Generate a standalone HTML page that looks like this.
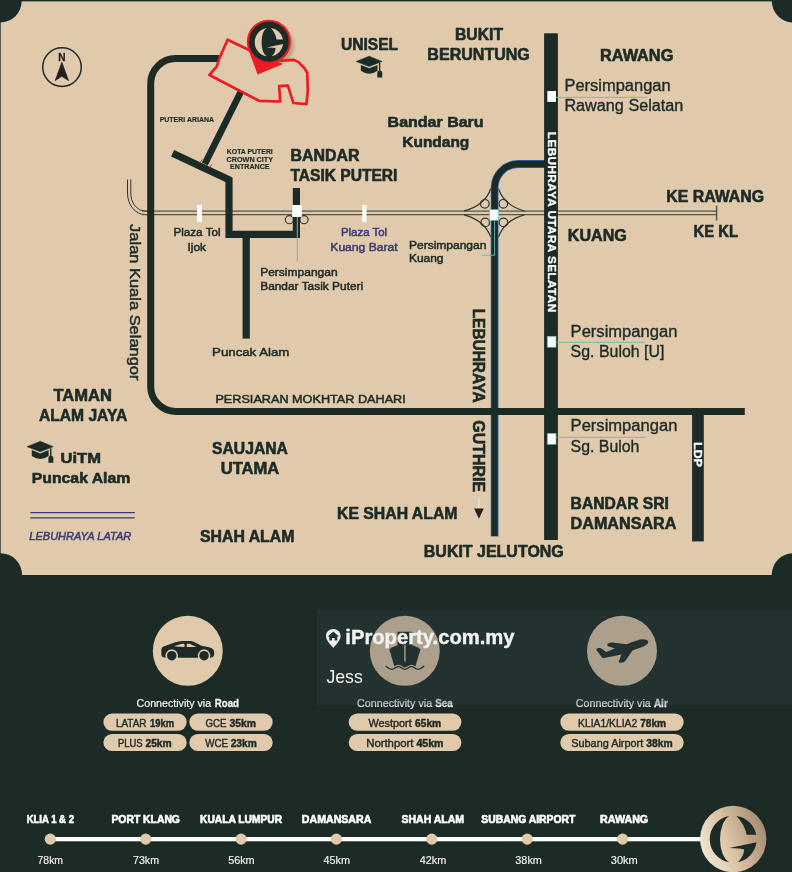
<!DOCTYPE html>
<html lang="ms">
<head>
<meta charset="utf-8">
<title>Location Map</title>
<style>
html,body{margin:0;padding:0;background:#1d2b27;}
body{width:792px;height:872px;overflow:hidden;}
svg{display:block;will-change:transform;font-family:"Liberation Sans",sans-serif;}
</style>
</head>
<body>
<svg width="792" height="872" viewBox="0 0 792 872">
<rect x="0" y="0" width="792" height="872" fill="#1d2b27"/>
<rect x="0.7" y="1.4" width="792" height="573.6" fill="#e1caab"/>
<circle cx="0.3" cy="1.0" r="21.4" fill="#1d2b27"/>
<circle cx="793.4" cy="1.0" r="21.6" fill="#1d2b27"/>
<circle cx="0.3" cy="575" r="21.8" fill="#1d2b27"/>
<circle cx="793.5" cy="575" r="21.8" fill="#1d2b27"/>
<g fill="none" stroke="#54564a" stroke-width="1.45">
<path d="M127.5 179.5 V193 A17.5 21.6 0 0 0 145 214.6 H148" stroke="#2f3630" stroke-width="1"/><path d="M142 214.6 H716.6"/>
<path d="M130.8 179.5 V193 A14.2 18.1 0 0 0 145 211.1 H148" stroke="#2f3630" stroke-width="1"/><path d="M142 211.1 H716.6"/>
<path d="M716.6 205.5 V220.5"/>
<circle cx="289.4" cy="219.7" r="4.1" stroke="#2f3630" stroke-width="1.15"/><circle cx="304" cy="219.7" r="4.1" stroke="#2f3630" stroke-width="1.15"/>
<g stroke="#2f3630" stroke-width="1.2">
<circle cx="484.8" cy="203.8" r="4.3"/><circle cx="503.3" cy="203.8" r="4.3"/>
<circle cx="485.2" cy="222.4" r="4.3"/><circle cx="503.5" cy="222.4" r="4.3"/>
<path d="M464 211 Q485 205.5 490.8 188.5"/>
<path d="M524.5 211 Q504.2 205.5 498.4 188.5"/>
<path d="M464 214.8 Q485 220.3 490.8 237.3"/>
<path d="M524.5 214.8 Q504.2 220.3 498.4 237.3"/>
</g>
</g>
<path d="M545 164 H518.2 A23.6 23.6 0 0 0 494.6 187.6 V536.6" fill="none" stroke="#2b6fca" stroke-width="7.8"/>
<path d="M545 164 H518.2 A23.6 23.6 0 0 0 494.6 187.6 V536.1" fill="none" stroke="#1d2b27" stroke-width="6.3"/>
<g fill="none" stroke="#1d2b27" stroke-width="7" stroke-linejoin="miter">
<path d="M219.5 58.55 H175.7 A25 25 0 0 0 150.7 83.55 V386.4 A25 25 0 0 0 175.7 411.4 H744.8" stroke-width="7"/>
<path d="M241 91.5 L204.8 164" stroke-width="6.6"/>
<path d="M172.6 153.2 L229 179.8 V234.3 H296.4 V188" stroke-linejoin="miter" stroke-width="7.2"/>
<path d="M246.2 234 V338.6" stroke-width="7.3"/>
</g>
<rect x="544.1" y="33.3" width="13.8" height="506.7" fill="#1d2b27"/>
<rect x="692.1" y="411" width="11.7" height="130.4" fill="#1d2b27"/>
<rect x="197" y="205" width="5" height="17" fill="#fff"/>
<rect x="362.3" y="205" width="4.2" height="17" fill="#fff"/>
<rect x="292.2" y="205" width="9.6" height="12" fill="#fff"/>
<path d="M297.3 217 V261.5" stroke="#5fbfa8" stroke-width="1" fill="none"/>
<rect x="489.3" y="209.7" width="9.4" height="10.6" fill="#fff" stroke="#5fbfa8" stroke-width="0.8"/>
<path d="M494.6 220.5 V255.3 H482" stroke="#5fbfa8" stroke-width="0.9" fill="none"/>
<path d="M556 97.4 H647" stroke="#5fbfa8" stroke-width="0.9" fill="none"/>
<rect x="547.3" y="91.0" width="8.7" height="10.9" fill="#fff" stroke="#5fbfa8" stroke-width="0"/>
<path d="M556 342.3 H645" stroke="#5fbfa8" stroke-width="0.9" fill="none"/>
<rect x="547.3" y="336.3" width="8.7" height="10.9" fill="#fff" stroke="#5fbfa8" stroke-width="0.7"/>
<path d="M556 437.3 H645" stroke="#5fbfa8" stroke-width="0.9" fill="none"/>
<rect x="547.3" y="433.4" width="8.7" height="10.9" fill="#fff" stroke="#5fbfa8" stroke-width="0.7"/>
<path d="M227.6 39.7 L248 49.5 L260 58 L281.8 60.6 L293.9 59.9 L298.5 62.1 L304.5 68.2 L307.2 72.7 L307.8 90.9 L306.4 104.1 L293.4 103 L287.9 85.6 L279.1 86.1 L280.3 101.5 L259.1 100.8 L209.4 75 L216.7 66.7 L219.7 57.6 Z" fill="none" stroke="#ec1c24" stroke-width="2.7" stroke-linejoin="round"/>
<defs><filter id="sh" x="-30%" y="-30%" width="170%" height="170%"><feGaussianBlur stdDeviation="1.6"/></filter></defs>
<ellipse cx="273" cy="45" rx="21" ry="21" fill="#6b5a3c" opacity="0.35" filter="url(#sh)"/>
<path d="M248.2 49 L257.6 74.6 L283 64 Z" fill="#ec1c24"/>
<circle cx="268.9" cy="41.7" r="21" fill="#1d2b27" stroke="#ec1c24" stroke-width="2.1"/>
<g fill="#e1caab"><path d="M266.57 28.11 A14.30 14.30 0 0 0 266.57 56.29 A7.38 14.92 0 0 1 266.57 28.11 Z"/><path d="M271.00 28.04 A14.30 14.30 0 0 1 283.06 39.54 L276.59 39.54 Q275.45 33.33 271.00 28.04 Z"/><path d="M283.17 44.10 L266.57 47.52 Q274.15 47.49 275.72 48.49 Q275.29 53.07 271.86 56.21 A14.30 14.30 0 0 0 283.17 44.10 Z"/></g>
<path d="M200.3 162.3 L202.3 159.3 M210 167.3 L212 164.2" stroke="#ec1c24" stroke-width="0.9"/>
<circle cx="62" cy="67.1" r="19.3" fill="none" stroke="#1d2b27" stroke-width="1.5"/>
<path d="M61.85 62.3 L68.5 80.6 L61.85 76.3 L55.2 80.6 Z" fill="#231f20" stroke="#231f20" stroke-width="0.7" stroke-linejoin="round"/>
<text x="61.9" y="60.8" font-size="10.6" font-weight="700" text-anchor="middle" fill="#231f20" textLength="7.3" lengthAdjust="spacingAndGlyphs" stroke="#231f20" stroke-width="0.3">N</text>
<g transform="translate(356.1 56.2) scale(1.0)" fill="#1d2b27"><path d="M0 5.3 L13.1 0 L26 5.3 L13.1 10.4 Z" stroke="#1e2a26" stroke-width="0.5" stroke-linejoin="round"/><path d="M4.75 8.7 L13.1 12.1 L21.4 8.7 V14.6 Q13.1 20.6 4.75 14.6 Z"/><path d="M22.8 6.8 H24.2 V14.5 H22.8 Z"/><path d="M21.2 21.2 V17 Q21.2 14.2 23.6 14.2 Q26.1 14.2 26.1 17 V21.2 Z"/></g>
<g transform="translate(27.0 441.3) scale(1.01)" fill="#1d2b27"><path d="M0 5.3 L13.1 0 L26 5.3 L13.1 10.4 Z" stroke="#1e2a26" stroke-width="0.5" stroke-linejoin="round"/><path d="M4.75 8.7 L13.1 12.1 L21.4 8.7 V14.6 Q13.1 20.6 4.75 14.6 Z"/><path d="M22.8 6.8 H24.2 V14.5 H22.8 Z"/><path d="M21.2 21.2 V17 Q21.2 14.2 23.6 14.2 Q26.1 14.2 26.1 17 V21.2 Z"/></g>
<text x="290.4" y="160.6" font-size="15.6" font-weight="700" text-anchor="start" fill="#1d2b27" textLength="69" lengthAdjust="spacingAndGlyphs" stroke="#1d2b27" stroke-width="0.6" stroke-linejoin="round">BANDAR</text>
<text x="290.4" y="180.8" font-size="15.6" font-weight="700" text-anchor="start" fill="#1d2b27" textLength="107" lengthAdjust="spacingAndGlyphs" stroke="#1d2b27" stroke-width="0.6" stroke-linejoin="round">TASIK PUTERI</text>
<text x="341" y="49.7" font-size="15.6" font-weight="700" text-anchor="start" fill="#1d2b27" textLength="57" lengthAdjust="spacingAndGlyphs" stroke="#1d2b27" stroke-width="0.6" stroke-linejoin="round">UNISEL</text>
<text x="479" y="40.4" font-size="15.6" font-weight="700" text-anchor="middle" fill="#1d2b27" textLength="48" lengthAdjust="spacingAndGlyphs" stroke="#1d2b27" stroke-width="0.6" stroke-linejoin="round">BUKIT</text>
<text x="478.6" y="59.7" font-size="15.6" font-weight="700" text-anchor="middle" fill="#1d2b27" textLength="102.5" lengthAdjust="spacingAndGlyphs" stroke="#1d2b27" stroke-width="0.6" stroke-linejoin="round">BERUNTUNG</text>
<text x="600" y="60.6" font-size="15.6" font-weight="700" text-anchor="start" fill="#1d2b27" textLength="73.3" lengthAdjust="spacingAndGlyphs" stroke="#1d2b27" stroke-width="0.6" stroke-linejoin="round">RAWANG</text>
<text x="435.6" y="126.5" font-size="15.5" font-weight="700" text-anchor="middle" fill="#1d2b27" textLength="96" lengthAdjust="spacingAndGlyphs" stroke="#1d2b27" stroke-width="0.6" stroke-linejoin="round">Bandar Baru</text>
<text x="435.8" y="146.6" font-size="15.5" font-weight="700" text-anchor="middle" fill="#1d2b27" textLength="67" lengthAdjust="spacingAndGlyphs" stroke="#1d2b27" stroke-width="0.6" stroke-linejoin="round">Kundang</text>
<text x="666.2" y="202" font-size="15.6" font-weight="700" text-anchor="start" fill="#1d2b27" textLength="98" lengthAdjust="spacingAndGlyphs" stroke="#1d2b27" stroke-width="0.6" stroke-linejoin="round">KE RAWANG</text>
<text x="693.5" y="237.4" font-size="15.6" font-weight="700" text-anchor="start" fill="#1d2b27" textLength="44.5" lengthAdjust="spacingAndGlyphs" stroke="#1d2b27" stroke-width="0.6" stroke-linejoin="round">KE KL</text>
<text x="567.8" y="241" font-size="15.6" font-weight="700" text-anchor="start" fill="#1d2b27" textLength="59" lengthAdjust="spacingAndGlyphs" stroke="#1d2b27" stroke-width="0.6" stroke-linejoin="round">KUANG</text>
<text x="53.5" y="401" font-size="15.6" font-weight="700" text-anchor="start" fill="#1d2b27" textLength="58.5" lengthAdjust="spacingAndGlyphs" stroke="#1d2b27" stroke-width="0.6" stroke-linejoin="round">TAMAN</text>
<text x="38.9" y="420.8" font-size="15.6" font-weight="700" text-anchor="start" fill="#1d2b27" textLength="88.4" lengthAdjust="spacingAndGlyphs" stroke="#1d2b27" stroke-width="0.6" stroke-linejoin="round">ALAM JAYA</text>
<text x="60.6" y="462.7" font-size="15.5" font-weight="700" text-anchor="start" fill="#1d2b27" textLength="40.4" lengthAdjust="spacingAndGlyphs" stroke="#1d2b27" stroke-width="0.6" stroke-linejoin="round">UiTM</text>
<text x="31.8" y="483" font-size="15.5" font-weight="700" text-anchor="start" fill="#1d2b27" textLength="98.5" lengthAdjust="spacingAndGlyphs" stroke="#1d2b27" stroke-width="0.6" stroke-linejoin="round">Puncak Alam</text>
<text x="212" y="454.1" font-size="15.6" font-weight="700" text-anchor="start" fill="#1d2b27" textLength="75.9" lengthAdjust="spacingAndGlyphs" stroke="#1d2b27" stroke-width="0.6" stroke-linejoin="round">SAUJANA</text>
<text x="220.7" y="473.8" font-size="15.6" font-weight="700" text-anchor="start" fill="#1d2b27" textLength="58.6" lengthAdjust="spacingAndGlyphs" stroke="#1d2b27" stroke-width="0.6" stroke-linejoin="round">UTAMA</text>
<text x="200" y="541.5" font-size="15.6" font-weight="700" text-anchor="start" fill="#1d2b27" textLength="94.4" lengthAdjust="spacingAndGlyphs" stroke="#1d2b27" stroke-width="0.6" stroke-linejoin="round">SHAH ALAM</text>
<text x="337" y="519.1" font-size="15.6" font-weight="700" text-anchor="start" fill="#1d2b27" textLength="120.5" lengthAdjust="spacingAndGlyphs" stroke="#1d2b27" stroke-width="0.6" stroke-linejoin="round">KE SHAH ALAM</text>
<text x="423.8" y="557.3" font-size="15.6" font-weight="700" text-anchor="start" fill="#1d2b27" textLength="140" lengthAdjust="spacingAndGlyphs" stroke="#1d2b27" stroke-width="0.6" stroke-linejoin="round">BUKIT JELUTONG</text>
<text x="570.6" y="508.7" font-size="15.6" font-weight="700" text-anchor="start" fill="#1d2b27" textLength="98.3" lengthAdjust="spacingAndGlyphs" stroke="#1d2b27" stroke-width="0.6" stroke-linejoin="round">BANDAR SRI</text>
<text x="570.6" y="528.9" font-size="15.6" font-weight="700" text-anchor="start" fill="#1d2b27" textLength="105.8" lengthAdjust="spacingAndGlyphs" stroke="#1d2b27" stroke-width="0.6" stroke-linejoin="round">DAMANSARA</text>
<text x="564.4" y="91" font-size="15.6" font-weight="400" text-anchor="start" fill="#1d2b27" textLength="106.3" lengthAdjust="spacingAndGlyphs" stroke="#1d2b27" stroke-width="0.35" stroke-linejoin="round">Persimpangan</text>
<text x="564.4" y="111" font-size="15.6" font-weight="400" text-anchor="start" fill="#1d2b27" textLength="119" lengthAdjust="spacingAndGlyphs" stroke="#1d2b27" stroke-width="0.35" stroke-linejoin="round">Rawang Selatan</text>
<text x="570.6" y="336.5" font-size="15.6" font-weight="400" text-anchor="start" fill="#1d2b27" textLength="106.8" lengthAdjust="spacingAndGlyphs" stroke="#1d2b27" stroke-width="0.35" stroke-linejoin="round">Persimpangan</text>
<text x="570.6" y="356.7" font-size="15.6" font-weight="400" text-anchor="start" fill="#1d2b27" textLength="93.8" lengthAdjust="spacingAndGlyphs" stroke="#1d2b27" stroke-width="0.35" stroke-linejoin="round">Sg. Buloh [U]</text>
<text x="570.6" y="431.4" font-size="15.6" font-weight="400" text-anchor="start" fill="#1d2b27" textLength="106.8" lengthAdjust="spacingAndGlyphs" stroke="#1d2b27" stroke-width="0.35" stroke-linejoin="round">Persimpangan</text>
<text x="570.6" y="451.6" font-size="15.6" font-weight="400" text-anchor="start" fill="#1d2b27" textLength="68.8" lengthAdjust="spacingAndGlyphs" stroke="#1d2b27" stroke-width="0.35" stroke-linejoin="round">Sg. Buloh</text>
<text x="409" y="248.9" font-size="11.2" font-weight="400" text-anchor="start" fill="#1d2b27" textLength="77.4" lengthAdjust="spacingAndGlyphs" stroke="#1d2b27" stroke-width="0.5" stroke-linejoin="round">Persimpangan</text>
<text x="409" y="262.3" font-size="11.2" font-weight="400" text-anchor="start" fill="#1d2b27" textLength="34.5" lengthAdjust="spacingAndGlyphs" stroke="#1d2b27" stroke-width="0.5" stroke-linejoin="round">Kuang</text>
<text x="364" y="235.8" font-size="11.2" font-weight="400" text-anchor="middle" fill="#3a3c78" textLength="46.2" lengthAdjust="spacingAndGlyphs" stroke="#3a3c78" stroke-width="0.5" stroke-linejoin="round">Plaza Tol</text>
<text x="364" y="250.9" font-size="11.2" font-weight="400" text-anchor="middle" fill="#3a3c78" textLength="67.4" lengthAdjust="spacingAndGlyphs" stroke="#3a3c78" stroke-width="0.5" stroke-linejoin="round">Kuang Barat</text>
<text x="197.0" y="235.7" font-size="11.2" font-weight="400" text-anchor="middle" fill="#1d2b27" textLength="47.2" lengthAdjust="spacingAndGlyphs" stroke="#1d2b27" stroke-width="0.5" stroke-linejoin="round">Plaza Tol</text>
<text x="196.8" y="250.6" font-size="11.2" font-weight="400" text-anchor="middle" fill="#1d2b27" textLength="18.6" lengthAdjust="spacingAndGlyphs" stroke="#1d2b27" stroke-width="0.5" stroke-linejoin="round">Ijok</text>
<text x="260.2" y="275.7" font-size="11.2" font-weight="400" text-anchor="start" fill="#1d2b27" textLength="77.4" lengthAdjust="spacingAndGlyphs" stroke="#1d2b27" stroke-width="0.5" stroke-linejoin="round">Persimpangan</text>
<text x="260.2" y="289.5" font-size="11.2" font-weight="400" text-anchor="start" fill="#1d2b27" textLength="103" lengthAdjust="spacingAndGlyphs" stroke="#1d2b27" stroke-width="0.5" stroke-linejoin="round">Bandar Tasik Puteri</text>
<text x="212.1" y="355.7" font-size="11.8" font-weight="400" text-anchor="start" fill="#1d2b27" textLength="77.2" lengthAdjust="spacingAndGlyphs" stroke="#1d2b27" stroke-width="0.5" stroke-linejoin="round">Puncak Alam</text>
<text x="215.4" y="402.5" font-size="11.7" font-weight="400" text-anchor="start" fill="#1d2b27" textLength="190.4" lengthAdjust="spacingAndGlyphs" stroke="#1d2b27" stroke-width="0.5" stroke-linejoin="round">PERSIARAN MOKHTAR DAHARI</text>
<text x="159.7" y="121.7" font-size="8.1" font-weight="700" text-anchor="start" fill="#1d2b27" textLength="54.3" lengthAdjust="spacingAndGlyphs" stroke="#1e2a26" stroke-width="0.2">PUTERI ARIANA</text>
<text x="249.8" y="154.1" font-size="8.1" font-weight="700" text-anchor="middle" fill="#1d2b27" textLength="46" lengthAdjust="spacingAndGlyphs" stroke="#1e2a26" stroke-width="0.2">KOTA PUTERI</text>
<text x="249.8" y="161.8" font-size="8.1" font-weight="700" text-anchor="middle" fill="#1d2b27" textLength="46.5" lengthAdjust="spacingAndGlyphs" stroke="#1e2a26" stroke-width="0.2">CROWN CITY</text>
<text x="249.8" y="168.8" font-size="8.1" font-weight="700" text-anchor="middle" fill="#1d2b27" textLength="39.5" lengthAdjust="spacingAndGlyphs" stroke="#1e2a26" stroke-width="0.2">ENTRANCE</text>
<text x="29.3" y="540" font-size="10.3" font-weight="400" text-anchor="start" fill="#3a3c78" textLength="102" lengthAdjust="spacingAndGlyphs" font-style="italic" stroke="#3a3c78" stroke-width="0.45">LEBUHRAYA LATAR</text>
<path d="M30.3 512.7 H134.8 M30.3 517.8 H134.8" stroke="#3a3c78" stroke-width="1.2" fill="none"/>
<text transform="translate(130.3 224.1) rotate(90)" font-size="15.4" font-weight="400" fill="#1d2b27" stroke="#1d2b27" stroke-width="0.5" textLength="156.4" lengthAdjust="spacingAndGlyphs">Jalan Kuala Selangor</text>
<text transform="translate(473.3 308.7) rotate(90)" font-size="15.6" font-weight="700" fill="#1d2b27" stroke="#1d2b27" stroke-width="0.6" textLength="94" lengthAdjust="spacingAndGlyphs">LEBUHRAYA</text>
<text transform="translate(473.3 420.3) rotate(90)" font-size="15.6" font-weight="700" fill="#1d2b27" stroke="#1d2b27" stroke-width="0.6" textLength="71.8" lengthAdjust="spacingAndGlyphs">GUTHRIE</text>
<path d="M478.9 498 V508.5" stroke="#f3ead8" stroke-width="0.9"/><path d="M474.1 508.4 H483.8 L478.9 518.8 Z" fill="#231f20"/>
<text transform="translate(547.7 131.8) rotate(90)" font-size="11.7" font-weight="700" fill="#fff" stroke="#fff" stroke-width="0.3" textLength="180.4" lengthAdjust="spacing">LEBUHRAYA UTARA SELATAN</text>
<text transform="translate(694.3 442.3) rotate(90)" font-size="10.8" font-weight="700" fill="#fff" stroke="#fff" stroke-width="0.35" textLength="24.6" lengthAdjust="spacingAndGlyphs">LDP</text>
<circle cx="187.8" cy="650.8" r="35" fill="#e1caab"/>
<circle cx="404.8" cy="650.8" r="35" fill="#e1caab"/>
<circle cx="622" cy="650.8" r="35" fill="#e1caab"/>
<g transform="translate(148 611) scale(0.10101)"><path fill="#1d2b27" d="M150 457 C138 452 132 440 132 420 V390 C132 370 140 358 155 352 L270 310 C300 300 330 297 380 297 H415 C435 297 450 303 465 311 L530 345 L605 360 C635 367 650 380 654 400 C658 425 655 445 640 458 L613.6 462 A62 62 0 1 0 496.4 462 H293.6 A62 62 0 1 0 176.4 462 Z"/><circle cx="235" cy="442" r="47" fill="#1d2b27"/><circle cx="555" cy="442" r="47" fill="#1d2b27"/><path fill="#e1caab" d="M262 347 L340 324 H361 V356 L268 352 Z M384 323 H412 L480 356 H384 Z"/></g>
<g transform="translate(365 611) scale(0.10101)"><path fill="#1d2b27" d="M322 205 H468 V345 H322 Z"/><path fill="#1d2b27" d="M240 378 Q300 338 395 322 Q490 338 550 378 L494 565 H296 Z"/><path fill="none" stroke="#e1caab" stroke-width="14" d="M395 335 V500"/><path fill="none" stroke="#e1caab" stroke-width="36" d="M210 548 C225 565 245 578 265 578 C290 578 305 551 330 551 C355 551 370 578 395 578 C420 578 435 551 460 551 C485 551 500 578 525 578 C545 578 565 565 582 548"/><path fill="none" stroke="#1d2b27" stroke-width="14" stroke-linecap="round" d="M210 548 C225 565 245 578 265 578 C290 578 305 551 330 551 C355 551 370 578 395 578 C420 578 435 551 460 551 C485 551 500 578 525 578 C545 578 565 565 582 548"/></g>
<g transform="translate(582 611) scale(0.10101)"><path fill="#1d2b27" d="M655 300 C652 285 625 278 590 280 C560 283 500 308 440 330 L300 313 C270 312 250 322 250 335 C250 345 260 350 275 355 L325 372 L240 405 L190 372 C175 364 150 366 140 382 L195 458 C202 467 215 467 230 464 L392 430 L366 492 C362 505 368 512 385 512 C405 512 420 505 432 490 L500 392 C540 378 600 358 632 340 C650 328 658 315 655 300 Z"/></g>
<text x="136.6" y="706.9" font-size="10.3" font-weight="400" fill="#f4f1ea" stroke="#f4f1ea" stroke-width="0.2" textLength="74.5" lengthAdjust="spacingAndGlyphs">Connectivity via</text>
<text x="214.8" y="706.9" font-size="10.3" font-weight="700" fill="#f4f1ea" stroke="#f4f1ea" stroke-width="0.3" textLength="24.2" lengthAdjust="spacingAndGlyphs">Road</text>
<text x="357.1" y="706.9" font-size="10.3" font-weight="400" fill="#f4f1ea" stroke="#f4f1ea" stroke-width="0.2" textLength="75.0" lengthAdjust="spacingAndGlyphs">Connectivity via</text>
<text x="435.2" y="706.9" font-size="10.3" font-weight="700" fill="#f4f1ea" stroke="#f4f1ea" stroke-width="0.3" textLength="17.7" lengthAdjust="spacingAndGlyphs">Sea</text>
<text x="575.8" y="707.1" font-size="10.3" font-weight="400" fill="#f4f1ea" stroke="#f4f1ea" stroke-width="0.2" textLength="75.0" lengthAdjust="spacingAndGlyphs">Connectivity via</text>
<text x="653.9" y="707.1" font-size="10.3" font-weight="700" fill="#f4f1ea" stroke="#f4f1ea" stroke-width="0.3" textLength="13.9" lengthAdjust="spacingAndGlyphs">Air</text>
<rect x="103.4" y="713.5" width="83.3" height="17.2" rx="8.6" fill="#e1caab"/>
<text x="115.9" y="726.8" font-size="10.2" font-weight="400" fill="#1d2b27" stroke="#1d2b27" stroke-width="0.4" textLength="30.7" lengthAdjust="spacingAndGlyphs">LATAR</text>
<text x="150.0" y="726.8" font-size="10.2" font-weight="700" fill="#1d2b27" stroke="#1d2b27" stroke-width="0.45" textLength="24.1" lengthAdjust="spacingAndGlyphs">19km</text>
<rect x="189.3" y="713.5" width="83.4" height="17.2" rx="8.6" fill="#e1caab"/>
<text x="205.4" y="726.8" font-size="10.2" font-weight="400" fill="#1d2b27" stroke="#1d2b27" stroke-width="0.4" textLength="21.0" lengthAdjust="spacingAndGlyphs">GCE</text>
<text x="229.5" y="726.8" font-size="10.2" font-weight="700" fill="#1d2b27" stroke="#1d2b27" stroke-width="0.45" textLength="26.5" lengthAdjust="spacingAndGlyphs">35km</text>
<rect x="103.4" y="733.9" width="83.3" height="17.2" rx="8.6" fill="#e1caab"/>
<text x="117.9" y="747.1999999999999" font-size="10.2" font-weight="400" fill="#1d2b27" stroke="#1d2b27" stroke-width="0.4" textLength="24.7" lengthAdjust="spacingAndGlyphs">PLUS</text>
<text x="145.4" y="747.1999999999999" font-size="10.2" font-weight="700" fill="#1d2b27" stroke="#1d2b27" stroke-width="0.45" textLength="26.4" lengthAdjust="spacingAndGlyphs">25km</text>
<rect x="189.3" y="733.9" width="83.4" height="17.2" rx="8.6" fill="#e1caab"/>
<text x="205.2" y="747.1999999999999" font-size="10.2" font-weight="400" fill="#1d2b27" stroke="#1d2b27" stroke-width="0.4" textLength="22.8" lengthAdjust="spacingAndGlyphs">WCE</text>
<text x="230.7" y="747.1999999999999" font-size="10.2" font-weight="700" fill="#1d2b27" stroke="#1d2b27" stroke-width="0.45" textLength="26.1" lengthAdjust="spacingAndGlyphs">23km</text>
<rect x="348.7" y="713.5" width="112.7" height="17.2" rx="8.6" fill="#e1caab"/>
<text x="368.5" y="726.8" font-size="10.2" font-weight="400" fill="#1d2b27" stroke="#1d2b27" stroke-width="0.4" textLength="43.2" lengthAdjust="spacingAndGlyphs">Westport</text>
<text x="415.0" y="726.8" font-size="10.2" font-weight="700" fill="#1d2b27" stroke="#1d2b27" stroke-width="0.45" textLength="26.2" lengthAdjust="spacingAndGlyphs">65km</text>
<rect x="348.7" y="733.9" width="112.7" height="17.2" rx="8.6" fill="#e1caab"/>
<text x="366.2" y="747.1999999999999" font-size="10.2" font-weight="400" fill="#1d2b27" stroke="#1d2b27" stroke-width="0.4" textLength="47.3" lengthAdjust="spacingAndGlyphs">Northport</text>
<text x="416.5" y="747.1999999999999" font-size="10.2" font-weight="700" fill="#1d2b27" stroke="#1d2b27" stroke-width="0.45" textLength="27.0" lengthAdjust="spacingAndGlyphs">45km</text>
<rect x="560.3" y="713.5" width="123.4" height="17.2" rx="8.6" fill="#e1caab"/>
<text x="578.0" y="726.8" font-size="10.2" font-weight="400" fill="#1d2b27" stroke="#1d2b27" stroke-width="0.4" textLength="59.2" lengthAdjust="spacingAndGlyphs">KLIA1/KLIA2</text>
<text x="640.2" y="726.8" font-size="10.2" font-weight="700" fill="#1d2b27" stroke="#1d2b27" stroke-width="0.45" textLength="25.9" lengthAdjust="spacingAndGlyphs">78km</text>
<rect x="560.3" y="733.9" width="123.4" height="17.2" rx="8.6" fill="#e1caab"/>
<text x="571.2" y="747.1999999999999" font-size="10.2" font-weight="400" fill="#1d2b27" stroke="#1d2b27" stroke-width="0.4" textLength="72.1" lengthAdjust="spacingAndGlyphs">Subang Airport</text>
<text x="646.2" y="747.1999999999999" font-size="10.2" font-weight="700" fill="#1d2b27" stroke="#1d2b27" stroke-width="0.45" textLength="26.4" lengthAdjust="spacingAndGlyphs">38km</text>
<rect x="50" y="837" width="655" height="4.3" fill="#fff"/>
<circle cx="50.3" cy="839.15" r="5.6" fill="#e1caab"/>
<text x="50.3" y="823.3" font-size="10.8" font-weight="700" text-anchor="middle" fill="#fff" textLength="47.3" lengthAdjust="spacingAndGlyphs" stroke="#fff" stroke-width="0.6" stroke-linejoin="round">KLIA 1 &amp; 2</text>
<text x="50.3" y="864.0" font-size="10.3" font-weight="400" text-anchor="middle" fill="#f4f1ea" textLength="25.6" lengthAdjust="spacingAndGlyphs" stroke="#f4f1ea" stroke-width="0.15">78km</text>
<circle cx="145.7" cy="839.15" r="5.6" fill="#e1caab"/>
<text x="145.7" y="823.3" font-size="10.8" font-weight="700" text-anchor="middle" fill="#fff" textLength="68.5" lengthAdjust="spacingAndGlyphs" stroke="#fff" stroke-width="0.6" stroke-linejoin="round">PORT KLANG</text>
<text x="146.0" y="864.0" font-size="10.3" font-weight="400" text-anchor="middle" fill="#f4f1ea" textLength="26" lengthAdjust="spacingAndGlyphs" stroke="#f4f1ea" stroke-width="0.15">73km</text>
<circle cx="241.1" cy="839.15" r="5.6" fill="#e1caab"/>
<text x="241.1" y="823.3" font-size="10.8" font-weight="700" text-anchor="middle" fill="#fff" textLength="82" lengthAdjust="spacingAndGlyphs" stroke="#fff" stroke-width="0.6" stroke-linejoin="round">KUALA LUMPUR</text>
<text x="241.4" y="864.0" font-size="10.3" font-weight="400" text-anchor="middle" fill="#f4f1ea" textLength="26.5" lengthAdjust="spacingAndGlyphs" stroke="#f4f1ea" stroke-width="0.15">56km</text>
<circle cx="336.4" cy="839.15" r="5.6" fill="#e1caab"/>
<text x="336.6" y="823.3" font-size="10.8" font-weight="700" text-anchor="middle" fill="#fff" textLength="69.5" lengthAdjust="spacingAndGlyphs" stroke="#fff" stroke-width="0.6" stroke-linejoin="round">DAMANSARA</text>
<text x="336.8" y="864.0" font-size="10.3" font-weight="400" text-anchor="middle" fill="#f4f1ea" textLength="26.5" lengthAdjust="spacingAndGlyphs" stroke="#f4f1ea" stroke-width="0.15">45km</text>
<circle cx="431.8" cy="839.15" r="5.6" fill="#e1caab"/>
<text x="432.8" y="823.3" font-size="10.8" font-weight="700" text-anchor="middle" fill="#fff" textLength="62.6" lengthAdjust="spacingAndGlyphs" stroke="#fff" stroke-width="0.6" stroke-linejoin="round">SHAH ALAM</text>
<text x="433.0" y="864.0" font-size="10.3" font-weight="400" text-anchor="middle" fill="#f4f1ea" textLength="26.5" lengthAdjust="spacingAndGlyphs" stroke="#f4f1ea" stroke-width="0.15">42km</text>
<circle cx="527.2" cy="839.15" r="5.6" fill="#e1caab"/>
<text x="528.3" y="823.3" font-size="10.8" font-weight="700" text-anchor="middle" fill="#fff" textLength="94" lengthAdjust="spacingAndGlyphs" stroke="#fff" stroke-width="0.6" stroke-linejoin="round">SUBANG AIRPORT</text>
<text x="528.6" y="864.0" font-size="10.3" font-weight="400" text-anchor="middle" fill="#f4f1ea" textLength="26.5" lengthAdjust="spacingAndGlyphs" stroke="#f4f1ea" stroke-width="0.15">38km</text>
<circle cx="622.6" cy="839.15" r="5.6" fill="#e1caab"/>
<text x="624.1" y="823.3" font-size="10.8" font-weight="700" text-anchor="middle" fill="#fff" textLength="48.2" lengthAdjust="spacingAndGlyphs" stroke="#fff" stroke-width="0.6" stroke-linejoin="round">RAWANG</text>
<text x="624.3" y="864.0" font-size="10.3" font-weight="400" text-anchor="middle" fill="#f4f1ea" textLength="27" lengthAdjust="spacingAndGlyphs" stroke="#f4f1ea" stroke-width="0.15">30km</text>
<defs><linearGradient id="gold" x1="0" y1="0.75" x2="1" y2="0.35"><stop offset="0" stop-color="#f3ead6"/><stop offset="0.45" stop-color="#dcc3a3"/><stop offset="1" stop-color="#a48b72"/></linearGradient></defs>
<circle cx="733.2" cy="839" r="33.2" fill="url(#gold)"/>
<g fill="#1d2b27"><path d="M729.21 816.05 A23.50 23.50 0 0 0 729.21 862.35 A13.16 24.29 0 0 1 729.21 816.05 Z"/><path d="M736.49 815.94 A23.50 23.50 0 0 1 756.30 834.83 L746.71 834.83 Q744.83 824.63 736.49 815.94 Z"/><path d="M756.49 842.33 L729.21 847.94 Q741.66 847.90 744.25 849.54 Q743.54 857.06 737.90 862.23 A23.50 23.50 0 0 0 756.49 842.33 Z"/></g>
<rect x="316.8" y="609.8" width="475.2" height="95.5" fill="#323e47" opacity="0.3"/>
<path fill="#f0f1f1" fill-rule="evenodd" d="M333.3 629 C329.2 629 326 632.1 326 636.1 C326 640.6 330.3 644.6 333.3 648 C336.3 644.6 340.6 640.6 340.6 636.1 C340.6 632.1 337.4 629 333.3 629 Z M333.3 631.6 L339 636.5 H337.3 V640.5 H334.6 V637.9 H332 V640.5 H329.3 V636.5 H327.6 Z"/>
<text x="345.3" y="643.9" font-size="19.8" font-weight="700" fill="#f0f1f1" stroke="#f0f1f1" stroke-width="0.4" textLength="169.3" lengthAdjust="spacingAndGlyphs">iProperty.com.my</text>
<text x="326.4" y="683.3" font-size="18.4" font-weight="400" fill="#f0f1f1" textLength="36.4" lengthAdjust="spacingAndGlyphs">Jess</text>
</svg>
</body>
</html>
